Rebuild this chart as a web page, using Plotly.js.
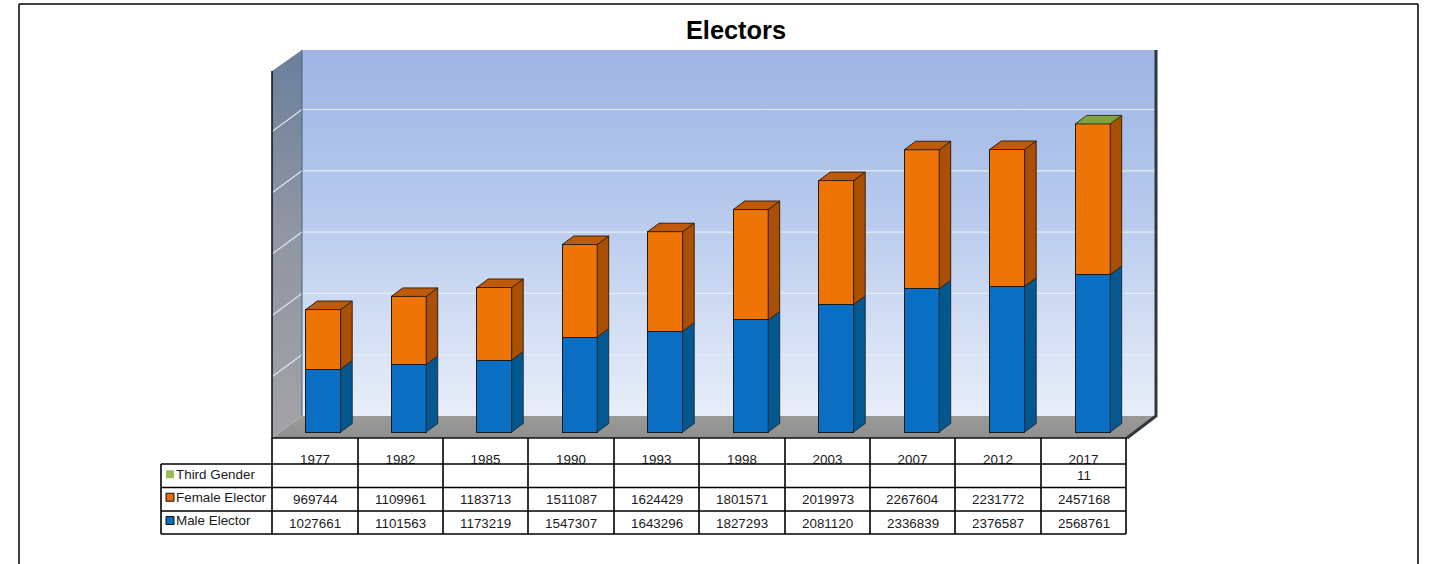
<!DOCTYPE html>
<html><head><meta charset="utf-8">
<script src="https://cdn.plot.ly/plotly-3.0.1.min.js"></script>
<style>html,body{margin:0;padding:0;background:#fff}#c{width:1440px;height:564px}</style>
</head><body><div id="c"></div>
<script>
const years = ['1977','1982','1985','1990','1993','1998','2003','2007','2012','2017'];
const male = [1027661,1101563,1173219,1547307,1643296,1827293,2081120,2336839,2376587,2568761];
const female = [969744,1109961,1183713,1511087,1624429,1801571,2019973,2267604,2231772,2457168];
const third = [null,null,null,null,null,null,null,null,null,11];
const gridValues = [1000000,2000000,3000000,4000000,5000000];
const rowNames = ['Third Gender','Female Elector','Male Elector'];
const rowValues = [third, female, male];

const W=1440,H=564, X0=323.2, DX=85.5, Y0=432, K=6.13e-5;
const xp=p=>(p-X0)/DX, yp=p=>(Y0-p)/K;          // pixel -> data
const px=p=>p/W, py=p=>1-p/H;                    // pixel -> paper
const depthX=11.5/DX, depthY=8.5/K, barW=35/DX, halfW=barW/2;
const hd='skip';

function poly(list){const x=[],y=[];list.forEach(p=>{p.forEach(q=>{x.push(q[0]);y.push(q[1]);});x.push(null);y.push(null);});return {x,y};}
function face(list,fill,line,z){const d=poly(list);return {type:'scatter',mode:line?'lines':'none',x:d.x,y:d.y,fill:'toself',fillcolor:fill,line:{color:line||fill,width:1},hoverinfo:hd,showlegend:false,zorder:z};}

const tot=male.map((m,i)=>m+female[i]+(third[i]||0));
const sideMale=male.map((m,i)=>{const r=i+halfW;return [[r,0],[r+depthX,depthY],[r+depthX,m+depthY],[r,m],[r,0]];});
const sideFemale=male.map((m,i)=>{const r=i+halfW,t=tot[i];return [[r,m],[r+depthX,m+depthY],[r+depthX,t+depthY],[r,t],[r,m]];});
const topFace=i=>{const l=i-halfW,r=i+halfW,t=tot[i];return [[l,t],[l+depthX,t+depthY],[r+depthX,t+depthY],[r,t],[l,t]];};
const idx=years.map((_,i)=>i);
const topF=idx.filter(i=>!third[i]).map(topFace), topT=idx.filter(i=>third[i]).map(topFace);

// walls
const wall=(pts,stops,type)=>({type:'scatter',mode:'none',x:pts.map(p=>xp(p[0])),y:pts.map(p=>yp(p[1])),fill:'toself',
  fillgradient:{type:type||'vertical',colorscale:stops},hoverinfo:hd,showlegend:false,zorder:-1});
const L=272,B=302,R=1156,F=1127,T=50,TL=71,BF=416,FF=438;
const backWall=wall([[B,T],[R,T],[R,BF],[B,BF],[B,T]],[[0,'#e8eef9'],[0.22,'#d6e0f4'],[0.5,'#bccdee'],[0.8,'#a8bee8'],[1,'#a0b5e4']]);
const leftWall=wall([[L,TL],[B,T],[B,BF],[L,FF],[L,TL]],[[0,'#a3a3a6'],[0.55,'#8f95a3'],[1,'#6a7f9c']]);
const floor=wall([[L,FF],[B,BF],[R,BF],[F,FF],[L,FF]],[[0,'#8f8f8f'],[1,'#9a9a98']]);

const segs=(list,color,width,z)=>{const d=poly(list);return {type:'scatter',mode:'lines',x:d.x,y:d.y,line:{color,width},hoverinfo:hd,showlegend:false,zorder:z};};
const gridBack=gridValues.map(v=>[[xp(B),v+yp(BF)],[xp(R),v+yp(BF)]]);
const gridLeft=gridValues.map(v=>[[xp(L),v+yp(FF)],[xp(B),v+yp(BF)]]);
const edgeRight=segs([[[xp(R),yp(T)],[xp(R),yp(BF)],[xp(F),yp(FF)]]],'#30383e',3,-1);
const edgeBack=segs([[[xp(B),yp(T)],[xp(B),yp(BF)]]],'#46607c',1,-1);
const edgeLeft=segs([[[xp(L),yp(TL)],[xp(L),yp(FF)],[xp(F),yp(FF)]]],'#111',1.5,-1);

const bar=(y,color,name)=>({type:'bar',name,x:idx,y,width:barW,marker:{color,line:{color:'#1a1a1a',width:1}},hoverinfo:'x+y',showlegend:false,zorder:0});

const traces=[
  backWall,leftWall,floor,
  segs(gridBack,'#e6eefa',1.2,-1),segs(gridLeft,'#dfe6f2',1.2,-1),
  edgeBack,edgeRight,edgeLeft,
  bar(male,'#0a6fc2','Male Elector'),bar(female,'#ee7405','Female Elector'),bar(third,'#9bbb59','Third Gender'),
  face(sideMale,'#04588f','#15324a',1),face(sideFemale,'#a94f06','#3a2008',1),
  face(topF,'#bf5a08','#3a2008',1),face(topT,'#7ea33f','#2c3a1a',1)
];

// table
const colX=[272,358,443,528,614,699,785,870,955,1041,1126], rowY=[464,487.5,511,534], headTop=438, labL=161;
const shapes=[];
const rect=(x0,y0,x1,y1,fill)=>shapes.push({type:'rect',xref:'paper',yref:'paper',x0:px(x0),x1:px(x1),y0:py(y0),y1:py(y1),fillcolor:fill,line:{width:0},layer:'above'});
const line=(x0,y0,x1,y1,w,c)=>shapes.push({type:'line',xref:'paper',yref:'paper',x0:px(x0),x1:px(x1),y0:py(y0),y1:py(y1),line:{color:c||'#000',width:w},layer:'above'});
rect(labL,464,1127,535,'#fff');
line(19,4,1418,4,1.5); line(19,4,19,564,1.5); line(1418,4,1418,564,1.5);
colX.forEach(x=>line(x,headTop,x,534,1.6));
line(labL,464,labL,534,1.6);
rowY.forEach(y=>line(labL,y,1126,y,1.6));
const annotations=[];
const text=(t,x,y,anchor)=>annotations.push({text:t,xref:'paper',yref:'paper',x:px(x),y:py(y),xanchor:anchor,yanchor:'middle',showarrow:false,font:{family:'Liberation Sans, Arial',size:13.4,color:'#1a1a1a'},borderpad:0,borderwidth:0});
const keyColor=['#9bbb59','#e36c09','#0070c0'];
rowNames.forEach((n,r)=>{
  const cy=(rowY[r]+rowY[r+1])/2-(r==0?1.5:2);
  text(n,175.5,cy,'left');
  shapes.push({type:'rect',xref:'paper',yref:'paper',x0:px(166),x1:px(174),y0:py(cy-4),y1:py(cy+4),fillcolor:keyColor[r],line:{color:r==0?keyColor[r]:'#111',width:r==0?0:1},layer:'above'});
  rowValues[r].forEach((v,i)=>{ if(v!==null) text(String(v),(colX[i]+colX[i+1])/2,(rowY[r]+rowY[r+1])/2+(r==0?-0.5:0.5),'center'); });
});

const layout={
  width:W,height:H,margin:{l:0,r:0,t:0,b:0},paper_bgcolor:'#fff',plot_bgcolor:'rgba(0,0,0,0)',barmode:'stack',showlegend:false,
  title:{text:'Electors',x:736/W,xanchor:'center',xref:'paper',y:1-30/H,yref:'paper',yanchor:'middle',font:{family:'Liberation Sans, Arial',size:25.4,color:'#000',weight:700}},
  xaxis:{type:'linear',range:[xp(0),xp(W)],domain:[0,1],anchor:'free',position:py(FF),showgrid:false,zeroline:false,showline:false,
    tickmode:'array',tickvals:idx.map(i=>xp((colX[i]+colX[i+1])/2)),ticktext:years,ticks:'',ticklabelstandoff:12,
    tickfont:{family:'Liberation Sans, Arial',size:13.4,color:'#1a1a1a'},fixedrange:true},
  yaxis:{type:'linear',range:[yp(H),yp(0)],domain:[0,1],visible:false,fixedrange:true},
  shapes,annotations
};
Plotly.newPlot('c',traces,layout,{displayModeBar:false,staticPlot:true});
</script></body></html>
